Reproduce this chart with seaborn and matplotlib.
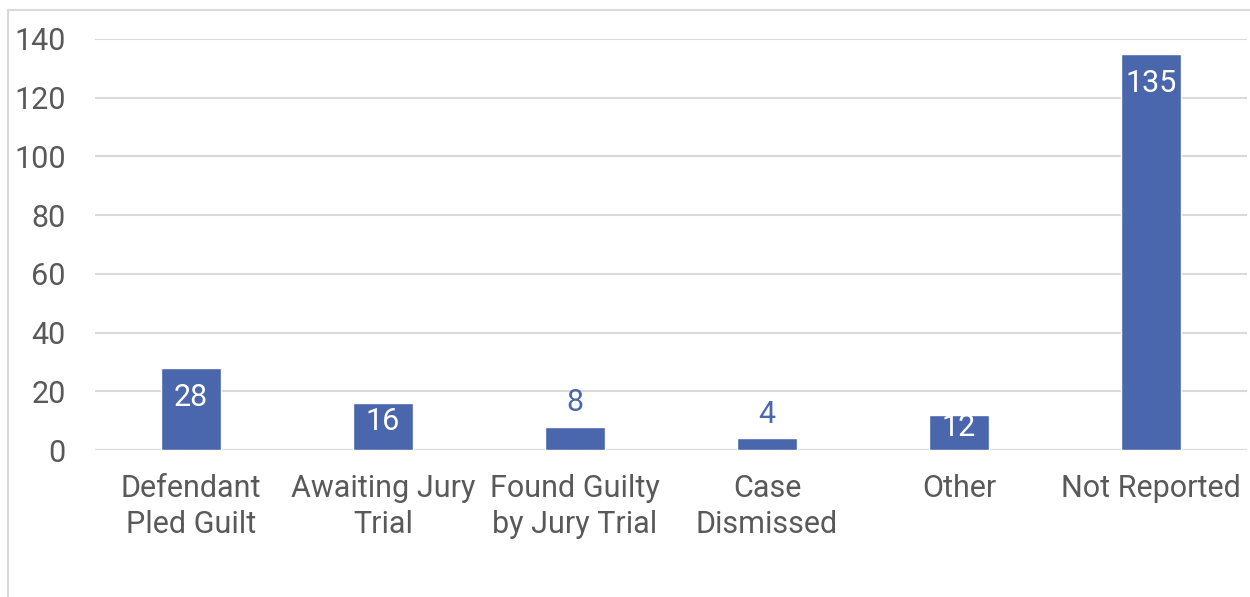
import matplotlib
matplotlib.use("Agg")
import matplotlib.pyplot as plt
from matplotlib.lines import Line2D
import pandas as pd
import seaborn as sns

categories = ["Defendant\nPled Guilt", "Awaiting Jury\nTrial", "Found Guilty\nby Jury Trial",
              "Case\nDismissed", "Other", "Not Reported"]
counts = [28, 16, 8, 4, 12, 135]
label_inside = [True, True, False, False, True, True]
y_ticks = [0, 20, 40, 60, 80, 100, 120, 140]

BAR_COLOR = "#4A66AC"
TEXT_COLOR = "#595959"
GRID_COLOR = "#D9D9D9"
FS = 22

sns.set_theme(style="white")
plt.rcParams["font.family"] = ["Roboto", "DejaVu Sans"]

df = pd.DataFrame({"outcome": categories, "count": counts})

fig = plt.figure(figsize=(12.5, 5.97), dpi=100)
ax = fig.add_axes([0.076, 0.2462, 0.9216, 0.6885])

sns.barplot(data=df, x="outcome", y="count", color=BAR_COLOR, saturation=1,
            width=0.3125, ax=ax)

ax.set_ylim(0, 140)
ax.set_xlim(-0.5, len(categories) - 0.5)
ax.set_yticks(y_ticks)
ax.set_yticklabels([str(t) for t in y_ticks])
ax.yaxis.grid(True, color=GRID_COLOR, linewidth=1.5)
ax.set_axisbelow(True)
for s in ax.spines.values():
    s.set_visible(False)
ax.tick_params(axis="both", length=0, labelsize=FS, colors=TEXT_COLOR)
ax.tick_params(axis="y", pad=21)
ax.tick_params(axis="x", pad=17)
for lbl in ax.get_xticklabels():
    lbl.set_linespacing(1.32)
ax.set_xlabel("")
ax.set_ylabel("")

# value labels: inside end for the taller bars, above the bar otherwise
for i, (v, inside) in enumerate(zip(counts, label_inside)):
    if inside:
        y = max(v - 10.2, v / 2 + 1.7)
        ax.text(i, y, str(v), ha="center", va="center", fontsize=FS, color="white")
    else:
        ax.annotate(str(v), (i, v), xytext=(0, 17), textcoords="offset points",
                    ha="center", va="center", fontsize=FS, color=BAR_COLOR)

# chart frame (left and top edges)
fig.add_artist(Line2D([7.5 / 1250, 7.5 / 1250], [0, 1 - 10 / 597], transform=fig.transFigure,
                      color=GRID_COLOR, linewidth=1.5))
fig.add_artist(Line2D([7.5 / 1250, 1], [1 - 10 / 597, 1 - 10 / 597], transform=fig.transFigure,
                      color=GRID_COLOR, linewidth=1.5))

fig.savefig("out.png", dpi=100)
